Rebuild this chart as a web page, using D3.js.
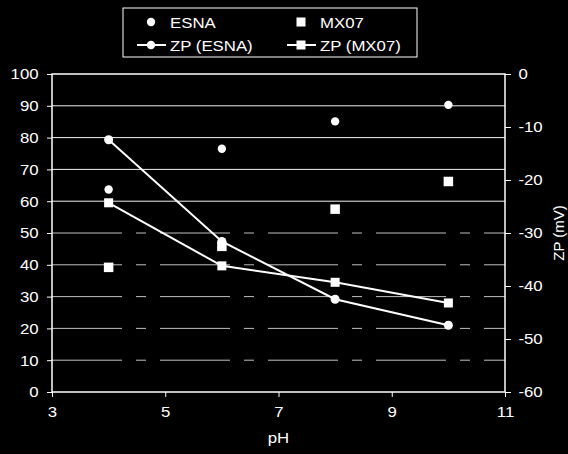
<!DOCTYPE html>
<meta charset="utf-8">
<body style="margin:0;background:#000">
<script src="https://cdn.jsdelivr.net/npm/d3@7"></script>
<style>
svg { display:block; background:#000; }
text { fill:#fff; font-family:"Liberation Sans", Arial, sans-serif; }
.axis path, .axis line { stroke:#fff; }
</style>
<svg id="chart" width="568" height="454"></svg>
<script>
// values
var pH      = [4, 6, 8, 10];
var esna    = [63.7, 76.5, 85.1, 90.3];      // left axis
var mx07    = [39.2, 45.8, 57.5, 66.2];      // left axis
var zpEsna  = [-12.4, -31.6, -42.5, -47.4];  // right axis, mV
var zpMx07  = [-24.3, -36.2, -39.3, -43.2];  // right axis, mV
var xTicks  = [3, 5, 7, 9, 11];
var yTicks  = [0, 10, 20, 30, 40, 50, 60, 70, 80, 90, 100];
var zTicks  = [0, -10, -20, -30, -40, -50, -60];
var legendNames = ["ESNA", "MX07", "ZP (ESNA)", "ZP (MX07)"];

var svg = d3.select("#chart");
var pLeft = 52, pRight = 505, pTop = 74, pBottom = 392;
var sx = 1.12;   // scan is a bit stretched sideways

var x = d3.scaleLinear().domain([3, 11]).range([pLeft, pRight]);
var yL = d3.scaleLinear().domain([0, 100]).range([pBottom, pTop]);
var yR = d3.scaleLinear().domain([-60, 0]).range([pBottom, pTop]);

// gridlines (lower ones come out broken in the scan)
svg.append("g").selectAll("line")
  .data(yTicks.filter(function(d){ return d > 0 && d < 100; }))
  .join("line")
  .attr("x1", pLeft).attr("x2", pRight)
  .attr("y1", function(d){ return yL(d); }).attr("y2", function(d){ return yL(d); })
  .attr("stroke", "#fff").attr("stroke-width", 1)
  .attr("stroke-dasharray", function(d){ return d <= 50 ? "70,14,10,14" : null; })
  .attr("opacity", function(d){ return d <= 50 ? 0.75 : 0.95; });

// frame
svg.append("rect").attr("x", pLeft).attr("y", pTop)
  .attr("width", pRight - pLeft).attr("height", pBottom - pTop)
  .attr("fill", "none").attr("stroke", "#fff").attr("stroke-width", 1.5);

var fs = "15px";
var gL = svg.append("g").attr("class", "axis").attr("transform", "translate(" + pLeft + ",0)")
  .call(d3.axisLeft(yL).tickValues(yTicks).tickSize(5).tickPadding(7));
var gR = svg.append("g").attr("class", "axis").attr("transform", "translate(" + pRight + ",0)")
  .call(d3.axisRight(yR).tickValues(zTicks).tickSize(6).tickPadding(6));
var gB = svg.append("g").attr("class", "axis").attr("transform", "translate(0," + pBottom + ")")
  .call(d3.axisBottom(x).tickValues(xTicks).tickSize(5).tickPadding(9));
[gL, gR, gB].forEach(function(g){
  g.select(".domain").remove();
  g.selectAll("text").style("font-size", fs)
    .attr("fill", "#fff").attr("transform", "scale(" + sx + ",1)");
  g.attr("font-family", null).attr("font-size", null);
});
gR.selectAll("text").text(function(d){ return d < 0 ? "-" + Math.abs(d) : d; });

svg.append("text").attr("transform", "translate(" + x(7) + ",443) scale(" + sx + ",1)")
  .attr("text-anchor", "middle").style("font-size", fs).text("pH");
svg.append("text").attr("transform", "translate(564," + ((pTop + pBottom) / 2) + ") rotate(-90)")
  .attr("text-anchor", "middle").style("font-size", "15px").text("ZP (mV)");

// ZP lines
var lineZ = d3.line().x(function(d){ return x(d[0]); }).y(function(d){ return yR(d[1]); });
[zpEsna, zpMx07].forEach(function(arr){
  svg.append("path").datum(d3.zip(pH, arr)).attr("d", lineZ)
    .attr("fill", "none").attr("stroke", "#fff").attr("stroke-width", 2);
});

function circles(data, yScale, r) {
  svg.append("g").selectAll("circle").data(d3.zip(pH, data)).join("circle")
    .attr("cx", function(d){ return x(d[0]); }).attr("cy", function(d){ return yScale(d[1]); })
    .attr("r", r).attr("fill", "#fff");
}
function squares(data, yScale, s) {
  svg.append("g").selectAll("rect").data(d3.zip(pH, data)).join("rect")
    .attr("x", function(d){ return x(d[0]) - s / 2; }).attr("y", function(d){ return yScale(d[1]) - s / 2; })
    .attr("width", s).attr("height", s).attr("fill", "#fff");
}
circles(esna, yL, 4.2);
squares(mx07, yL, 9.5);
circles(zpEsna, yR, 4.5);
squares(zpMx07, yR, 9);

// legend
var lg = svg.append("g");
lg.append("rect").attr("x", 123).attr("y", 8).attr("width", 294).attr("height", 49)
  .attr("fill", "#000").attr("stroke", "#fff").attr("stroke-width", 1);
var cols = [151, 301], rows = [22, 45];
legendNames.forEach(function(name, i){
  var cx = cols[i % 2], cy = rows[Math.floor(i / 2)];
  if (i >= 2) lg.append("line").attr("x1", cx - 14).attr("x2", cx + 15)
    .attr("y1", cy).attr("y2", cy).attr("stroke", "#fff").attr("stroke-width", 2);
  if (i % 2 === 0) lg.append("circle").attr("cx", cx).attr("cy", cy).attr("r", 4.2).attr("fill", "#fff");
  else lg.append("rect").attr("x", cx - 4.5).attr("y", cy - 4.5).attr("width", 9).attr("height", 9).attr("fill", "#fff");
  lg.append("text").attr("transform", "translate(" + (cx + 19) + "," + (cy + 5.5) + ") scale(" + sx + ",1)")
    .style("font-size", fs).text(name);
});
</script>
</body>
